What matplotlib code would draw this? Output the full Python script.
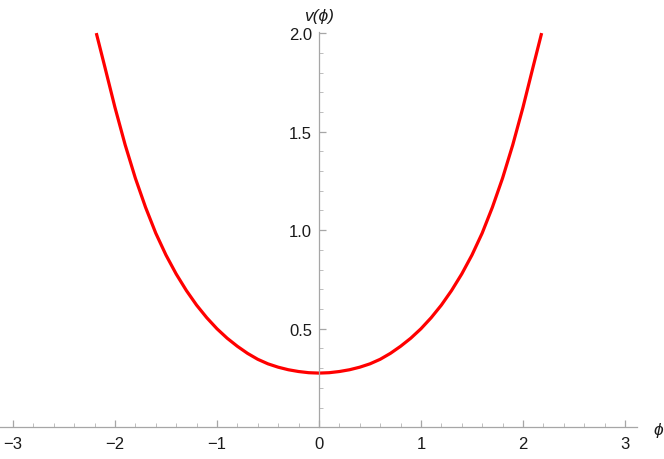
import matplotlib
matplotlib.use("Agg")
import matplotlib.pyplot as plt
from matplotlib.ticker import FixedLocator

# Data (curve is symmetric about phi = 0)
phi_right = [0.0, 0.1, 0.2, 0.3, 0.4, 0.5, 0.6, 0.7, 0.8, 0.9, 1.0,
             1.1, 1.2, 1.3, 1.4, 1.5, 1.6, 1.7, 1.8, 1.9, 2.0, 2.1, 2.183]
v_right = [0.275, 0.277, 0.283, 0.292, 0.305, 0.322, 0.345, 0.375, 0.411, 0.452, 0.500,
           0.556, 0.620, 0.694, 0.778, 0.874, 0.985, 1.116, 1.264, 1.433, 1.623, 1.830, 2.000]

phi = [-p for p in phi_right[::-1]] + phi_right[1:]
v = v_right[::-1] + v_right[1:]

x_major = [-3, -2, -1, 0, 1, 2, 3]
x_labels = ['\u22123', '\u22122', '\u22121', '0', '1', '2', '3']
y_major = [0.5, 1.0, 1.5, 2.0]
y_labels = ["0.5", "1.0", "1.5", "2.0"]

plt.rcParams['font.family'] = ['Liberation Sans', 'DejaVu Sans']

fig = plt.figure(figsize=(6.64, 4.60), dpi=100)
ax = fig.add_axes([0.0, (460 - 428.3) / 460, 636.7 / 664, (428.3 - 33.3) / 460])

ax.plot(phi, v, color='#ff0000', lw=2.3, solid_joinstyle='round', solid_capstyle='butt')

ax.set_xlim(-3.127, 3.115)
ax.set_ylim(0, 2.004)

for s in ['top', 'right']:
    ax.spines[s].set_visible(False)
ax.spines['left'].set_position(('data', 0))
ax.spines['bottom'].set_position(('data', 0))
axis_col = '#a6a6a6'
for s in ['left', 'bottom']:
    ax.spines[s].set_color(axis_col)
    ax.spines[s].set_linewidth(0.9)

ax.set_xticks(x_major)
ax.set_xticklabels(x_labels)
ax.set_yticks(y_major)
ax.set_yticklabels(y_labels)

x_minor = [i / 5 for i in range(-15, 16) if i % 5 != 0]
y_minor = [i / 10 for i in range(1, 20) if i % 5 != 0]
ax.xaxis.set_minor_locator(FixedLocator(x_minor))
ax.yaxis.set_minor_locator(FixedLocator(y_minor))

ax.tick_params(axis='both', which='major', direction='in', length=5, width=0.9,
               color=axis_col, labelsize=12, labelcolor='#1a1a1a')
ax.tick_params(axis='both', which='minor', direction='in', length=3, width=0.7,
               color='#bdbdbd')
ax.tick_params(axis='x', which='major', pad=6)
ax.tick_params(axis='y', which='major', pad=5)

ax.patch.set_alpha(0)

fig.text(318.5 / 664, 1 - 16 / 460, 'v(\u03d5)', style='italic', fontsize=12.5,
         ha='center', va='center', color='#1a1a1a')
fig.text(658 / 664, 1 - 431 / 460, '\u03d5', style='italic', fontsize=12.5,
         ha='center', va='center', color='#1a1a1a')

fig.savefig('out.png', dpi=100)
